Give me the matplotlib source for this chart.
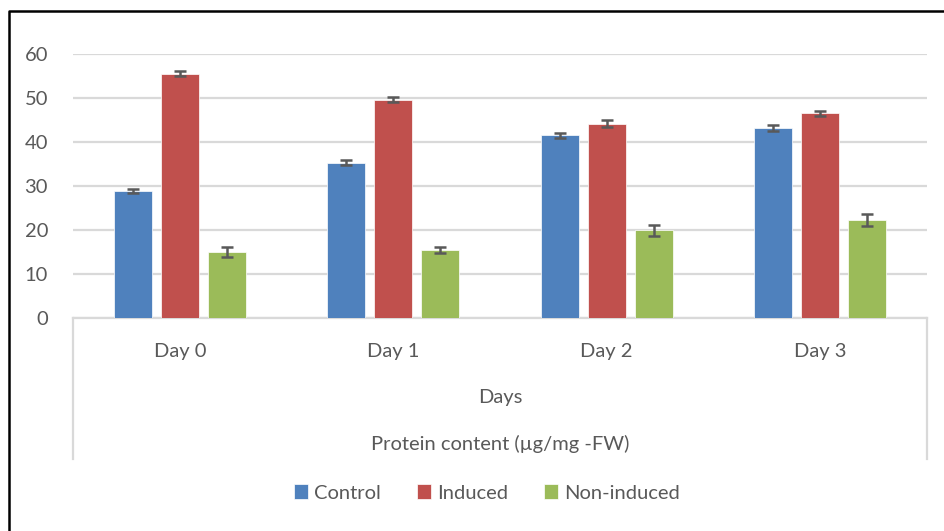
import numpy as np
import matplotlib.pyplot as plt
from matplotlib.lines import Line2D

plt.rcParams['font.family'] = ['Lato', 'DejaVu Sans']

days = ["Day 0", "Day 1", "Day 2", "Day 3"]
series = ["Control", "Induced", "Non-induced"]
control = [28.9, 35.3, 41.5, 43.2]
induced = [55.5, 49.6, 44.2, 46.5]
non_induced = [15.0, 15.5, 19.9, 22.3]
control_err = [0.5, 0.5, 0.5, 0.6]
induced_err = [0.6, 0.6, 0.7, 0.6]
non_induced_err = [1.2, 0.7, 1.2, 1.3]
colors = ["#4f81bd", "#c0504d", "#9bbb59"]
txt = "#595959"
fs = 14.5

fig = plt.figure(figsize=(9.44, 5.31), dpi=100)
W, H = 944, 531
ax = fig.add_axes([73 / W, 1 - 318 / H, (927 - 73) / W, (318 - 54) / H])

x = np.arange(len(days))
width = 0.18
offs = [-0.22, 0, 0.22]
vals = [control, induced, non_induced]
errs = [control_err, induced_err, non_induced_err]
for i in range(3):
    ax.bar(x + offs[i], vals[i], width, color=colors[i], label=series[i],
           edgecolor="white", linewidth=0.5, zorder=3,
           yerr=errs[i], error_kw=dict(ecolor="#595959", elinewidth=1.8,
                                      capsize=4, capthick=1.8, zorder=4))

ax.set_xlim(-0.5, 3.5)
ax.set_ylim(0, 60)
ax.set_yticks(range(0, 61, 10))
ax.yaxis.grid(True, color="#d9d9d9", linewidth=1.6, zorder=0)
ax.set_axisbelow(True)
for s in ["top", "right", "left"]:
    ax.spines[s].set_visible(False)
ax.spines["bottom"].set_color("#d9d9d9")
ax.spines["bottom"].set_linewidth(1.6)
ax.tick_params(axis="both", length=0, labelcolor=txt, labelsize=fs)
ax.tick_params(axis="y", pad=18)
ax.set_xticks(x)
ax.set_xticklabels(days)
ax.tick_params(axis="x", pad=18)

# multi-level category box
for xp in [73, 927]:
    fig.add_artist(Line2D([xp / W, xp / W], [1 - 318 / H, 1 - 459 / H],
                          color="#d9d9d9", linewidth=1.6))
fig.text(500 / W, 1 - 397 / H, "Days", ha="center", va="center", color=txt, fontsize=fs)
fig.text(500 / W, 1 - 444 / H, "Protein content (µg/mg -FW)", ha="center",
         va="center", color=txt, fontsize=fs)

# outer frame
fig.add_artist(Line2D([8.5 / W, 8.5 / W, 1.0], [0, 1 - 11 / H, 1 - 11 / H],
                      color="black", linewidth=1.8))

fig.legend(loc="center", bbox_to_anchor=(487 / W, 1 - 493 / H), ncol=3,
           frameon=False, fontsize=fs, labelcolor=txt, handlelength=0.7,
           handleheight=0.7, handletextpad=0.3, columnspacing=1.8)

fig.savefig("out.png", dpi=100)
